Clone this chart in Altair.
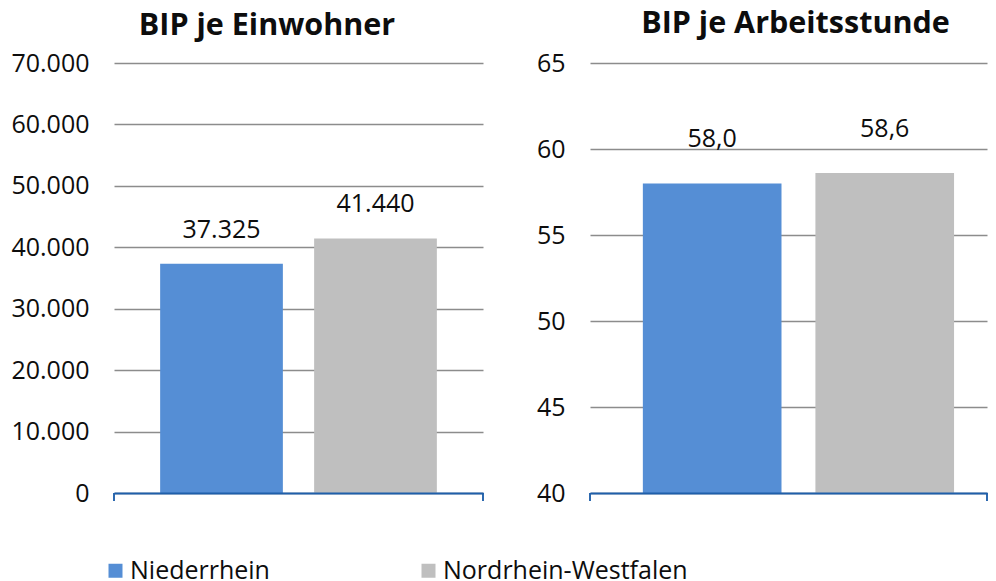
import altair as alt
import pandas as pd

FONT = "Open Sans"

regions = ["Niederrhein", "Nordrhein-Westfalen"]
colors = ["#558ED5", "#BFBFBF"]

bip_einwohner = [37325, 41440]
bip_stunde = [58.0, 58.6]

ticks_einwohner = [0, 10000, 20000, 30000, 40000, 50000, 60000, 70000]
ticks_stunde = [40, 45, 50, 55, 60, 65]

AXIS_BLUE = "#1F5FAA"
GRID = "#8C8C8C"
TXT = "#0D0D0D"


def panel(values, title, domain, ticks, axis_expr, label_expr, width, height,
          dy, title_dx, title_offset, axis_extent, x_scale, show_legend):
    df = pd.DataFrame({"region": regions, "value": values})
    base = alt.Chart(df).transform_calculate(label=label_expr)

    x = alt.X(
        "region:N", sort=regions,
        scale=x_scale,
        axis=alt.Axis(domain=True, domainColor=AXIS_BLUE, domainWidth=2,
                      ticks=False, labels=False, title=None, grid=False,
                      zindex=1),
    )
    y = alt.Y(
        "value:Q",
        scale=alt.Scale(domain=domain, zero=False, nice=False),
        axis=alt.Axis(values=ticks, labelExpr=axis_expr, title=None,
                      domain=False, ticks=False, labelPadding=25,
                      minExtent=axis_extent,
                      labelFont=FONT, labelFontSize=25, labelColor=TXT,
                      grid=True, gridColor=GRID, gridWidth=1.5),
    )
    legend = None
    if show_legend:
        legend = alt.Legend(
            orient="none", legendX=-11, legendY=495, direction="horizontal",
            title=None, symbolType="square", symbolSize=196,
            symbolStrokeWidth=0, labelFont=FONT, labelFontSize=25,
            labelColor=TXT, labelOffset=2, columnPadding=146,
            labelBaseline="middle", labelLimit=400,
        )
    color = alt.Color("region:N", scale=alt.Scale(domain=regions, range=colors),
                      legend=legend)

    bars = base.mark_bar().encode(x=x, y=y, y2=alt.datum(domain[0]), color=color)
    text = base.mark_text(baseline="alphabetic", dy=dy, font=FONT, fontSize=25,
                          color=TXT).encode(x=x, y=y, text="label:N")
    tick_l = base.mark_rule(color=AXIS_BLUE, strokeWidth=1.5).encode(
        x=alt.value(0), y=alt.value(height), y2=alt.value(height + 8))
    tick_r = base.mark_rule(color=AXIS_BLUE, strokeWidth=1.5).encode(
        x=alt.value(width), y=alt.value(height), y2=alt.value(height + 8))

    return alt.layer(bars, text, tick_l, tick_r).properties(
        width=width, height=height,
        title=alt.TitleParams(title, font=FONT, fontSize=30.5, fontWeight="bold",
                              color=TXT, anchor="middle", baseline="alphabetic",
                              dx=title_dx, offset=title_offset),
    )


left = panel(
    bip_einwohner, "BIP je Einwohner", [0, 70000], ticks_einwohner,
    "replace(format(datum.value, ',d'), ',', '.')",
    "replace(format(datum.value, ',d'), ',', '.')",
    369, 430, -26, -31.5, -14, 104,
    alt.Scale(paddingInner=0.203, paddingOuter=0.2997),
    True,
)
right = panel(
    bip_stunde, "BIP je Arbeitsstunde", [40, 65], ticks_stunde,
    "format(datum.value, 'd')",
    "replace(format(datum.value, '.1f'), '.', ',')",
    397, 430, -36, 7, -12, 60,
    alt.Scale(paddingInner=0.1965, paddingOuter=0.2486, align=0.616),
    False,
)

chart = alt.hconcat(left, right, spacing=46).properties(
    padding={"left": 2, "top": 0, "right": 0, "bottom": 0}
).configure_view(stroke=None)

chart.save("out.html", embed_options={"renderer": "svg", "actions": False})
